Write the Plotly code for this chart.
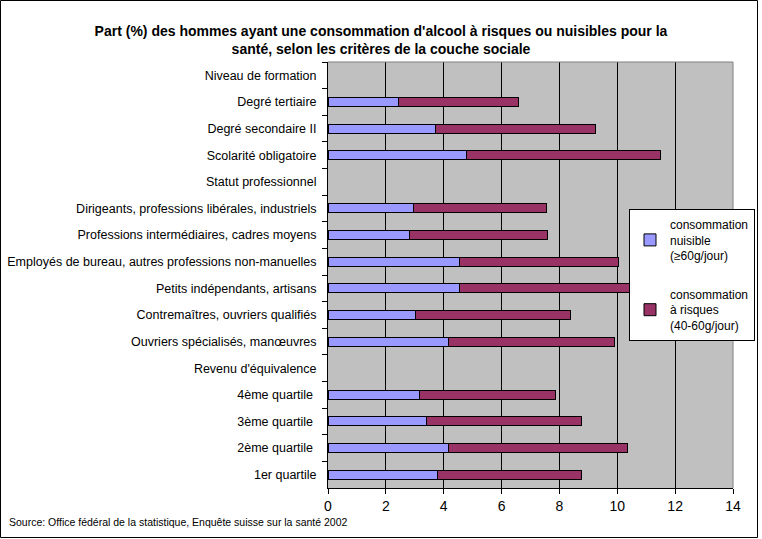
import plotly.graph_objects as go

categories = [
    "Niveau de formation",
    "Degré tertiaire",
    "Degré secondaire II",
    "Scolarité obligatoire",
    "Statut professionnel",
    "Dirigeants, professions libérales, industriels",
    "Professions intermédiaires, cadres moyens",
    "Employés de bureau, autres professions non-manuelles",
    "Petits indépendants, artisans",
    "Contremaîtres, ouvriers qualifiés",
    "Ouvriers spécialisés, manœuvres",
    "Revenu d'équivalence",
    "4ème quartile ",
    "3ème quartile ",
    "2ème quartile ",
    "1er quartile",
]
nuisible = [None, 2.45, 3.73, 4.80, None, 2.97, 2.83, 4.56, 4.53, 3.04, 4.15,
            None, 3.15, 3.42, 4.15, 3.77]
risques = [None, 4.13, 5.51, 6.68, None, 4.57, 4.77, 5.48, 6.19, 5.33, 5.74,
           None, 4.70, 5.33, 6.19, 5.01]
x_ticks = [0, 2, 4, 6, 8, 10, 12, 14]

W, H = 762, 539
ml, mr, mt, mb = 328, 29, 62, 51
pw, ph = W - ml - mr, H - mt - mb

fig = go.Figure()
fig.add_trace(go.Bar(
    y=categories, x=nuisible, orientation="h", legendgroup="g1",
    name="consommation<br>nuisible<br>(≥60g/jour)",
    marker=dict(color="#9999FF", line=dict(color="black", width=1)),
))
fig.add_trace(go.Bar(
    y=categories, x=risques, orientation="h", legendgroup="g2",
    name="consommation<br>à risques<br>(40-60g/jour)",
    marker=dict(color="#993366", line=dict(color="black", width=1)),
))

fig.update_layout(
    width=W, height=H,
    margin=dict(l=ml, r=mr, t=mt, b=mb, pad=0, autoexpand=False),
    barmode="stack", bargap=0.66,
    plot_bgcolor="#C0C0C0", paper_bgcolor="white",
    font=dict(family="Liberation Sans, Arial, sans-serif", size=12, color="black"),
    title=dict(
        text="<b>Part (%) des hommes ayant une consommation d'alcool à risques ou nuisibles pour la<br>santé, selon les critères de la couche sociale</b>",
        x=0.5, xanchor="center", xref="container",
        y=1 - 36 / H, yanchor="top", yref="container",
        font=dict(size=14),
    ),
    legend=dict(
        x=(629 - ml) / pw, xanchor="left",
        y=(H - mb - 209) / ph, yanchor="top",
        bgcolor="white", bordercolor="black", borderwidth=1,
        font=dict(size=12), tracegroupgap=20, traceorder="grouped",
    ),
    showlegend=True,
)
fig.update_xaxes(
    range=[0, 14], tickvals=x_ticks, ticks="outside", ticklen=5,
    tickcolor="black", showgrid=True, gridcolor="black", gridwidth=1,
    showline=True, linecolor="black", linewidth=1, zeroline=False,
    tickfont=dict(size=14), mirror=False,
)
fig.update_yaxes(
    type="category", categoryorder="array", categoryarray=categories,
    autorange="reversed", ticks="outside", ticklen=5, tickcolor="black",
    tickson="boundaries", showline=True, linecolor="black", linewidth=1,
    showgrid=False, tickfont=dict(size=12.5), ticklabelstandoff=8,
)
# gray plot-area border on top and right
fig.add_shape(type="line", xref="paper", yref="paper", x0=0, x1=1, y0=1, y1=1,
              line=dict(color="#808080", width=1))
fig.add_shape(type="line", xref="paper", yref="paper", x0=1, x1=1, y0=0, y1=1,
              line=dict(color="#808080", width=1))
# outer frame
fig.add_shape(type="rect", xref="paper", yref="paper",
              x0=(0.5 - ml) / pw, x1=(757.5 - ml) / pw,
              y0=-(mb - 1.5) / ph, y1=1 + (mt - 0.5) / ph,
              line=dict(color="black", width=1))
fig.add_annotation(
    text="Source: Office fédéral de la statistique, Enquête suisse sur la santé 2002",
    xref="paper", yref="paper", x=(7 - ml) / pw, y=-(522 - mt - ph) / ph,
    xanchor="left", yanchor="middle", showarrow=False,
    font=dict(size=10.5),
)
fig.write_html("out.html", config={"displayModeBar": False},
               post_script="document.body.style.margin='0';document.body.style.overflow='hidden';")
